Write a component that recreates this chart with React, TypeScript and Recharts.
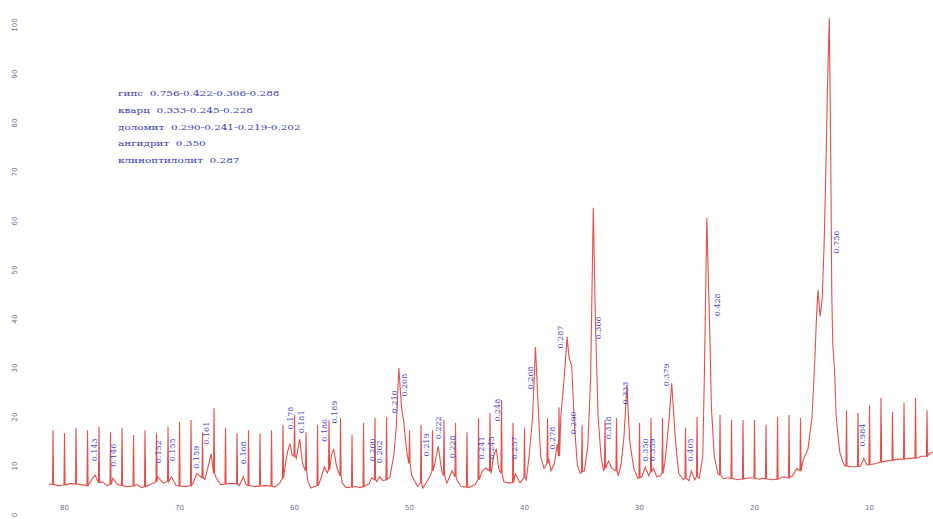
import { ComposedChart, Line, Scatter, XAxis, YAxis } from 'recharts';

// Diffractogram, 2θ (deg, Co Kα) against intensity. Continuous trace.
const trace: [number, number][] = [
  [81.35, 6.3], [80.6, 6.0], [79.5, 6.4], [78.6, 6.2], [77.7, 7.0], [77.35, 8.2], [76.7, 6.8],
  [76.3, 6.0], [75.8, 7.5], [75.4, 6.2], [74.6, 5.8], [73.7, 6.2], [73.3, 5.6], [72.5, 6.3],
  [71.9, 7.8], [71.4, 6.5], [70.7, 7.8], [70.3, 6.0], [69.5, 5.8], [68.8, 6.6], [68.5, 8.5],
  [67.8, 7.2], [67.55, 9.5], [67.25, 12.5], [66.8, 7.5], [66.4, 6.2], [65.6, 6.5], [64.8, 6.0],
  [64.45, 7.8], [64.2, 6.2], [63.4, 5.8], [62.6, 6.0], [61.7, 5.7], [61.3, 6.5], [60.85, 9.5],
  [60.6, 13.0], [60.4, 14.5], [60.2, 12.2], [59.85, 11.5], [59.55, 15.5], [59.3, 10.5],
  [58.85, 7.0], [58.6, 5.5], [58.25, 5.8], [57.75, 7.2], [57.4, 9.8], [57.15, 8.6], [56.8, 12.0],
  [56.6, 13.5], [56.35, 10.0], [55.85, 6.5], [55.5, 5.6], [54.7, 5.8], [54.3, 5.6], [53.5, 6.4],
  [53.3, 7.6], [52.85, 6.8], [52.6, 7.8], [52.3, 7.0], [51.7, 7.8], [51.35, 12.5], [51.15, 18.0],
  [50.93, 30.0], [50.7, 22.0], [50.5, 19.0], [50.25, 13.0], [49.8, 8.0], [49.3, 5.8],
  [48.85, 5.5], [48.5, 6.8], [48.2, 8.0], [47.8, 10.5], [47.5, 14.0], [47.2, 9.0], [46.75, 6.5],
  [46.3, 9.0], [45.85, 7.0], [45.5, 5.8], [44.85, 5.6], [44.3, 6.2], [43.7, 8.8], [43.4, 9.6],
  [42.9, 8.5], [42.7, 12.0], [42.45, 13.5], [42.25, 9.5], [41.8, 6.8], [41.3, 6.5], [40.8, 8.4],
  [40.4, 6.6], [39.85, 7.2], [39.6, 12.0], [39.3, 20.0], [39.05, 34.3], [38.85, 24.0],
  [38.6, 12.0], [38.3, 9.5], [37.9, 11.5], [37.7, 9.0], [37.4, 10.5], [37.15, 14.5],
  [36.85, 20.0], [36.55, 28.0], [36.3, 36.3], [36.12, 32.0], [35.9, 30.5], [35.65, 18.0],
  [35.4, 10.0], [35.15, 8.5], [34.8, 9.0], [34.5, 14.0], [34.25, 28.0], [34.02, 62.7],
  [33.82, 38.0], [33.6, 20.0], [33.35, 12.0], [33.12, 9.0], [32.7, 11.0], [32.4, 9.5],
  [31.85, 8.0], [31.6, 10.5], [31.35, 16.0], [31.1, 26.5], [30.85, 15.0], [30.5, 9.5],
  [30.15, 7.5], [29.8, 7.8], [29.5, 9.8], [29.2, 8.0], [28.8, 9.5], [28.5, 7.8], [28.15, 8.0],
  [27.75, 11.5], [27.45, 19.0], [27.2, 26.9], [26.9, 16.0], [26.6, 8.5], [26.2, 7.2],
  [25.7, 7.0], [25.5, 9.0], [25.2, 7.2], [24.8, 7.5], [24.5, 12.0], [24.35, 30.0],
  [24.15, 60.6], [23.9, 38.0], [23.75, 22.0], [23.5, 12.0], [23.2, 8.5], [22.7, 7.4],
  [22.3, 7.6], [21.5, 7.2], [20.5, 7.6], [19.6, 7.3], [19.3, 7.5], [18.5, 7.2], [17.5, 7.8],
  [16.7, 8.0], [16.3, 9.5], [15.8, 11.0], [15.35, 13.5], [15.0, 20.0], [14.75, 32.0],
  [14.6, 41.0], [14.48, 45.9], [14.3, 40.5], [14.12, 44.0], [13.95, 55.0], [13.8, 70.0],
  [13.65, 88.0], [13.5, 101.4], [13.38, 75.0], [13.28, 45.0], [13.2, 35.0], [13.15, 33.3],
  [13.05, 30.0], [12.9, 20.0], [12.6, 13.0], [12.35, 11.0], [12.15, 10.0], [11.5, 9.8],
  [10.8, 10.0], [10.5, 11.5], [10.2, 10.2], [9.4, 10.5], [8.6, 11.0], [7.8, 11.3], [7.3, 11.4],
  [6.4, 11.6], [5.5, 12.0], [4.8, 12.5], [4.48, 12.8],
];

// Recorder marks every whole degree: [2θ, base, top]
const degreeMarks: [number, number, number][] = [
  [81, 6.2, 17.3], [80, 6.1, 16.7], [79, 6.3, 17.8], [78, 6.0, 17.3], [77, 6.6, 18.0],
  [76, 6.2, 16.9], [75, 6.0, 17.8], [74, 5.9, 16.3], [73, 5.8, 17.3], [72, 6.8, 16.7],
  [71, 6.8, 18.0], [70, 5.9, 19.0], [69, 6.0, 19.4], [68, 7.6, 16.9], [67, 8.5, 21.8],
  [66, 6.3, 17.8], [65, 6.3, 16.7], [64, 6.0, 17.3], [63, 5.9, 16.7], [62, 5.9, 17.3],
  [61, 7.5, 18.4], [60, 12.0, 20.4], [59, 9.0, 16.9], [58, 5.9, 18.4], [57, 9.2, 19.4],
  [56, 8.0, 19.8], [55, 5.7, 16.3], [54, 5.8, 18.8], [53, 7.2, 19.8], [52, 7.2, 20.0],
  [50, 10.5, 17.3], [49, 6.5, 18.4], [48, 9.0, 17.3], [47, 8.0, 19.4], [46, 7.8, 18.8],
  [45, 5.7, 16.9], [44, 7.2, 19.8], [43, 9.0, 20.8], [42, 8.5, 23.5], [41, 6.6, 18.8],
  [40, 7.6, 17.8], [38, 10.5, 19.8], [37, 12.0, 22.0], [35, 8.8, 18.4], [33, 9.5, 19.4],
  [32, 9.0, 19.8], [30, 7.6, 18.8], [29, 8.8, 19.8], [28, 8.5, 19.8], [26, 7.5, 17.8],
  [25, 7.8, 20.0], [23, 8.2, 20.4], [22, 7.5, 19.4], [21, 7.4, 19.4], [20, 7.5, 19.4],
  [19, 7.4, 18.4], [18, 7.3, 20.0], [17, 7.6, 20.4], [16, 9.0, 19.8], [12, 10.0, 21.4],
  [11, 9.9, 20.8], [10, 10.3, 22.4], [9, 10.8, 23.9], [8, 11.1, 21.0], [7, 11.4, 22.9],
  [6, 11.6, 23.9], [5, 12.0, 21.4],
];

// Interplanar spacings (nm) written beside the reflections: [2θ, intensity, d]
const peakLabels: [number, number, string][] = [
  [77.35, 13.3, '0.143'], [75.78, 12.2, '0.146'], [71.87, 12.9, '0.152'], [70.65, 13.3, '0.155'],
  [68.48, 11.8, '0.159'], [67.61, 16.7, '0.161'], [64.48, 12.7, '0.168'], [60.39, 19.8, '0.178'],
  [59.35, 19.0, '0.181'], [57.35, 17.3, '0.186'], [56.48, 21.0, '0.189'], [53.26, 13.3, '0.200'],
  [52.57, 12.9, '0.202'], [51.3, 23.1, '0.210'], [50.43, 26.5, '0.208'], [48.48, 14.3, '0.219'],
  [47.52, 17.8, '0.222'], [46.3, 13.9, '0.228'], [43.7, 13.7, '0.241'], [42.83, 13.7, '0.245'],
  [42.39, 21.4, '0.248'], [40.83, 13.7, '0.257'], [39.52, 28.0, '0.268'], [37.61, 15.7, '0.278'],
  [36.91, 36.3, '0.287'], [35.78, 18.8, '0.290'], [33.6, 38.2, '0.306'], [32.73, 17.8, '0.318'],
  [31.26, 24.9, '0.333'], [29.52, 13.3, '0.350'], [28.83, 13.3, '0.359'], [27.61, 28.6, '0.379'],
  [25.61, 13.3, '0.405'], [23.26, 42.9, '0.428'], [12.83, 55.7, '0.756'], [10.57, 16.3, '0.984'],
];

const phases: [string, string][] = [
  ['гипс', '0.756-0.422-0.306-0.288'],
  ['кварц', '0.333-0.245-0.228'],
  ['доломит', '0.290-0.241-0.219-0.202'],
  ['ангидрит', '0.350'],
  ['клиноптилолит', '0.287'],
];

const xTicks = [80, 70, 60, 50, 40, 30, 20, 10];
const yTicks = [0, 10, 20, 30, 40, 50, 60, 70, 80, 90, 100];

const MARK_HALF_WIDTH = 0.05;

const spectrum = [
  ...trace.map(([t, v]) => ({ t, v })),
  ...degreeMarks.flatMap(([t, base, top]) => [
    { t: t + MARK_HALF_WIDTH, v: base },
    { t, v: top },
    { t: t - MARK_HALF_WIDTH, v: base },
  ]),
].sort((a, b) => a.t - b.t);

const labelData = peakLabels.map(([t, v, d]) => ({ t, v, d }));

const axisColor = '#6e6e9c';
const labelColor = '#4646cc';

const XTick = ({ x, y, payload }: any) => (
  <text x={x} y={y - 5} textAnchor="middle" fontSize={7} fill={axisColor} fontFamily="DejaVu Sans">
    {payload.value}
  </text>
);

const YTick = ({ x, y, payload }: any) => {
  const lx = x - 34;
  return (
    <text
      x={lx}
      y={y}
      transform={`rotate(-90 ${lx} ${y})`}
      textAnchor="middle"
      dominantBaseline="central"
      fontSize={7}
      fill={axisColor}
      fontFamily="DejaVu Sans"
    >
      {payload.value}
    </text>
  );
};

const PeakLabel = ({ cx, cy, payload }: any) => (
  <text
    x={cx}
    y={cy}
    transform={`rotate(-90 ${cx} ${cy})`}
    textAnchor="middle"
    dominantBaseline="central"
    fontSize={8}
    fill={labelColor}
    fontFamily="DejaVu Serif"
  >
    {payload.d}
  </text>
);

export default function App() {
  return (
    <div style={{ position: 'absolute', left: 0, top: 0, width: 933, height: 519, background: '#fff' }}>
      <ComposedChart width={933} height={519} margin={{ top: 15, right: 0, bottom: 0, left: 0 }}>
        <XAxis
          type="number"
          dataKey="t"
          domain={[4.48, 81.35]}
          reversed
          allowDataOverflow
          ticks={xTicks}
          interval={0}
          height={4}
          axisLine={false}
          tickLine={false}
          tickSize={0}
          tickMargin={0}
          tick={<XTick />}
        />
        <YAxis
          type="number"
          domain={[0, 102.04]}
          allowDataOverflow
          ticks={yTicks}
          interval={0}
          width={49}
          axisLine={false}
          tickLine={false}
          tickSize={0}
          tickMargin={0}
          tick={<YTick />}
        />
        <Line
          data={spectrum}
          dataKey="v"
          type="linear"
          stroke="#e5504a"
          strokeWidth={1.1}
          dot={false}
          activeDot={false}
          isAnimationActive={false}
        />
        <Scatter data={labelData} dataKey="v" shape={<PeakLabel />} isAnimationActive={false} />
      </ComposedChart>
      {/* phase list with reference d-spacings */}
      <div
        style={{
          position: 'absolute',
          left: 118,
          top: 86,
          fontFamily: 'DejaVu Serif',
          fontSize: 8,
          lineHeight: '16.8px',
          color: '#3838c4',
          whiteSpace: 'pre',
          transform: 'scaleX(1.3)',
          transformOrigin: 'left top',
        }}
      >
        {phases.map(([name, d]) => (
          <div key={name}>{`${name}  ${d}`}</div>
        ))}
      </div>
    </div>
  );
}
